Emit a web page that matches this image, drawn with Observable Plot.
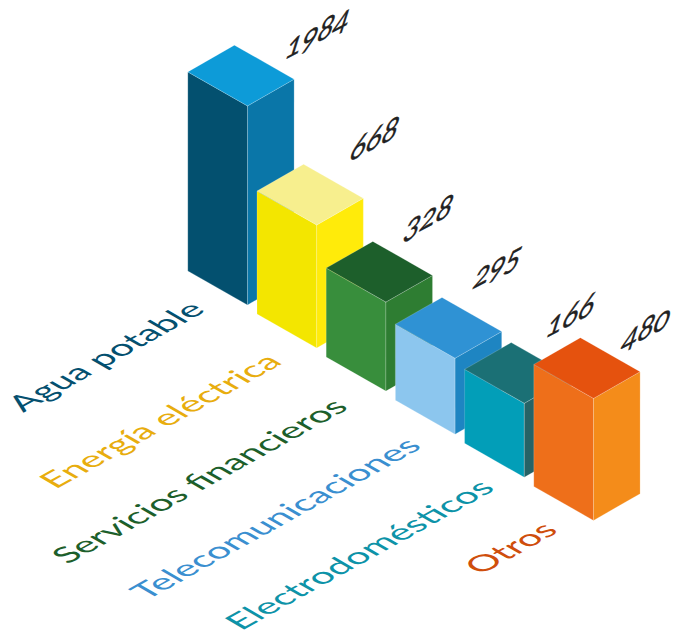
<!DOCTYPE html>
<html><head><meta charset="utf-8">
<style>html,body{margin:0;padding:0;background:#fff}svg{display:block}</style>
<script src="https://cdn.jsdelivr.net/npm/d3@7"></script>
<script src="https://cdn.jsdelivr.net/npm/@observablehq/plot@0.6"></script>
</head><body><script>
const categories = ["Agua potable","Energía eléctrica","Servicios financieros","Telecomunicaciones","Electrodomésticos","Otros"];
const values = [1984,668,328,295,166,480];
const barHeights = [199,123,89,76,74,122];
const leftColors = ["#03506f","#f3e600","#388e3c","#8cc6ee","#029eb8","#ee6f1a"];
const topColors = ["#0d9bd8","#f7ef8e","#1d5f2b","#2f92d4","#1b7075","#e5520e"];
const rightColors = ["#0a76a8","#ffeb0a","#2e7d32","#1e85c2","#266366","#f48c1a"];
const labelColors = ["#04506f","#e8ad0e","#1d5f2b","#3a8fd0","#0d93a8","#cf4e0c"];

// isometric projection of the bars
const W=674,H=633;
const origin=[247,304.4], step=[69.2,43.1], toLeft=[-59.7,-34], toRight=[46.6,-26.7];
const valueNudge=[[-7,-30],[-12,-47],[-27,-46],[-27,-53],[-23,-49],[-17,-31]];
const catNudge=[[-7,-11],[1,-2],[-2,0],[2,-4],[6,-5],[0,-6]];
const rows=categories.map((c,i)=>{
  const fx=origin[0]+step[0]*i, fb=origin[1]+step[1]*i, ft=fb-barHeights[i];
  return {c,i,fx,fb,ft};
});
const faces=[];
function face(id,color,pts){
  [...pts,pts[0]].forEach(p=>faces.push({id,color,x:p[0],y:p[1]}));
}
rows.forEach(({i,fx,fb,ft})=>{
  const lx=fx+toLeft[0], ly=toLeft[1], rx=fx+toRight[0], ry=toRight[1];
  face(i+"l",leftColors[i],[[fx,ft],[lx,ft+ly],[lx,fb+ly],[fx,fb]]);
  face(i+"r",rightColors[i],[[fx,ft],[rx,ft+ry],[rx,fb+ry],[fx,fb]]);
  face(i+"t",topColors[i],[[fx,ft],[lx,ft+ly],[fx+toLeft[0]+toRight[0],ft+ly+ry],[rx,ft+ry]]);
});
const catLabels=rows.map(r=>({text:r.c,color:labelColors[r.i],x:r.fx-42.5+catNudge[r.i][0],y:r.fb+12+catNudge[r.i][1]}));
const valLabels=rows.map(r=>({text:String(values[r.i]),
  x:r.fx+toRight[0]+valueNudge[r.i][0], y:r.ft+toRight[1]+valueNudge[r.i][1]}));

const svg=Plot.plot({
  width:W,height:H,margin:0,
  x:{domain:[0,W],range:[0,W],axis:null},
  y:{domain:[0,H],range:[0,H],axis:null},
  marks:[
    Plot.line(faces,{x:"x",y:"y",z:"id",fill:"color",stroke:"#fff",strokeOpacity:0.3,strokeWidth:0.6,curve:"linear"}),
    Plot.text(catLabels,{x:"x",y:"y",text:"text",fill:"color",textAnchor:"end",
      fontSize:31,fontFamily:"Lato",fontWeight:400}),
    Plot.text(valLabels,{x:"x",y:"y",text:"text",fill:"#222",stroke:"#222",strokeWidth:0.3,textAnchor:"start",
      fontSize:31,fontFamily:"Lato"})
  ]
});
const textGroups=svg.querySelectorAll('g[aria-label="text"]');
const skew=(g,m)=>g.querySelectorAll("text").forEach(el=>{
  const t=el.getAttribute("transform")||"";
  el.setAttribute("transform",t+" matrix("+m+",0,0)");
  el.setAttribute("dy","0");
  el.style.fontVariantNumeric="oldstyle-nums";
  el.querySelectorAll("tspan").forEach(s=>s.setAttribute("dy","0"));
});
skew(textGroups[0],[1.02,-0.566,0.866,0.5].join(","));
skew(textGroups[1],[0.94,-0.5,-0.36,1.15].join(","));
document.body.appendChild(svg);
</script></body></html>
